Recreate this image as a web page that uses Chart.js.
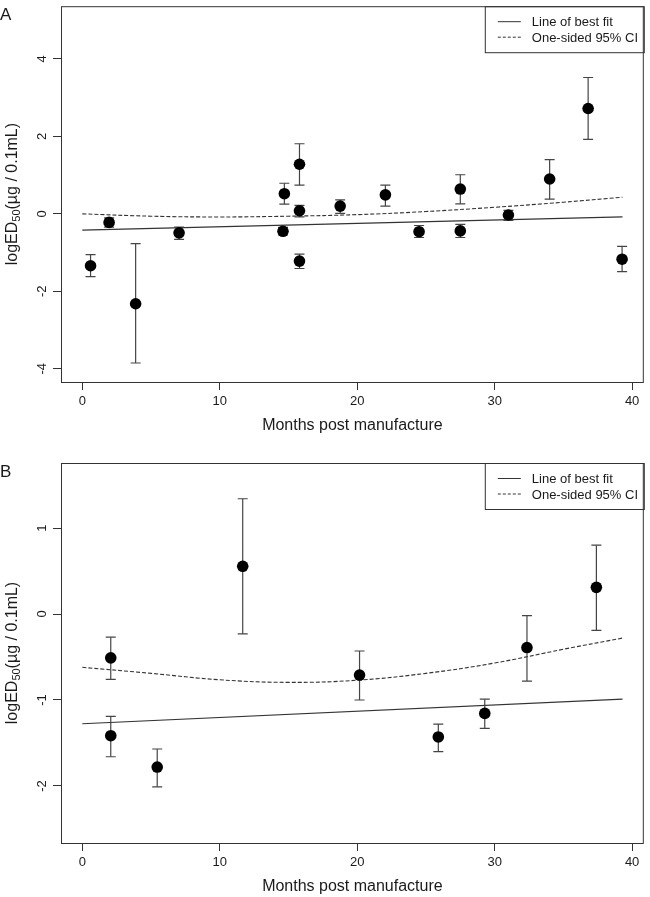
<!DOCTYPE html>
<html>
<head>
<meta charset="utf-8">
<script src="https://cdn.jsdelivr.net/npm/chart.js@4.4.1/dist/chart.umd.min.js"></script>
<style>
  body { margin: 0; background: #fff; }
  .panel { position: absolute; left: 0; width: 650px; }
</style>
</head>
<body>
<div class="panel" style="top:0"><canvas id="chartA" width="650" height="448"></canvas></div>
<div class="panel" style="top:448px"><canvas id="chartB" width="650" height="449"></canvas></div>
<script>
// panel A
const monthsA = [0.6, 1.95, 3.88, 7.04, 14.6, 14.7, 15.8, 15.8, 15.8, 18.76, 22.05, 24.5, 27.5, 27.5, 31.0, 34.0, 36.8, 39.27];
const logEDA  = [-1.34, -0.22, -2.32, -0.49, -0.45, 0.52, 1.28, 0.08, -1.22, 0.20, 0.49, -0.46, 0.64, -0.44, -0.03, 0.90, 2.72, -1.17];
const upperA  = [-1.05, -0.10, -0.77, -0.34, -0.35, 0.79, 1.81, 0.22, -1.04, 0.36, 0.74, -0.30, 1.01, -0.27, 0.09, 1.40, 3.52, -0.84];
const lowerA  = [-1.62, -0.34, -3.85, -0.66, -0.54, 0.25, 0.74, -0.08, -1.41, 0.01, 0.20, -0.61, 0.26, -0.61, -0.17, 0.38, 1.92, -1.49];
const fitA    = [-0.42, -0.08];
const ciA     = [0.0, -0.06, -0.08, -0.06, -0.02, 0.06, 0.17, 0.30, 0.43];
const yTicksA = [-4, -2, 0, 2, 4];

// panel B
const monthsB = [2.07, 2.07, 5.45, 11.67, 20.17, 25.9, 29.28, 32.35, 37.4];
const logEDB  = [-0.51, -1.415, -1.78, 0.555, -0.71, -1.43, -1.156, -0.39, 0.31];
const upperB  = [-0.27, -1.19, -1.57, 1.34, -0.43, -1.28, -0.99, -0.02, 0.80];
const lowerB  = [-0.76, -1.66, -2.01, -0.23, -1.00, -1.60, -1.33, -0.78, -0.19];
const fitB    = [-1.276, -0.99];
const ciB     = [-0.62, -0.69, -0.765, -0.795, -0.77, -0.69, -0.57, -0.41, -0.28];
const yTicksB = [-2, -1, 0, 1];

// shared
const fitMonths = [0, 39.3];
const ciMonths  = [0, 5, 10, 15, 20, 25, 30, 35, 39.3];
const xTicks    = [0, 10, 20, 30, 40];
const legendLabels = ['Line of best fit', 'One-sided 95% CI'];

const FONT = "'Liberation Sans', Arial, sans-serif";
const INK = '#1a1a1a';
Chart.defaults.font.family = FONT;

function xy(xs, ys) { return xs.map((x, i) => ({ x, y: ys[i] })); }

function errorBarPoints(xs, lo, hi) {
    const pts = [];
    xs.forEach((x, i) => { pts.push({ x, y: lo[i] }, { x, y: hi[i] }, { x, y: null }); });
    return pts;
}

// R-style box, legend, rotated y labels and titles
const decor = {
    id: 'decor',
    afterDraw(chart, args, opts) {
        const { ctx, chartArea: a, scales } = chart;
        ctx.save();
        ctx.strokeStyle = '#333';
        ctx.lineWidth = 1;
        ctx.strokeRect(a.left + 0.5, a.top + 0.5, a.right - a.left - 1, a.bottom - a.top);

        // panel letter
        ctx.fillStyle = INK;
        ctx.font = `17px ${FONT}`;
        ctx.textAlign = 'left';
        ctx.textBaseline = 'alphabetic';
        ctx.fillText(opts.letter, 0, a.top + 14);

        // y tick labels, rotated like R's las=0
        ctx.font = `13px ${FONT}`;
        ctx.textAlign = 'center';
        ctx.textBaseline = 'middle';
        opts.yTicks.forEach(v => {
            const py = scales.y.getPixelForValue(v);
            ctx.save();
            ctx.translate(42.5, py);
            ctx.rotate(-Math.PI / 2);
            ctx.fillText(String(v), 0, 0);
            ctx.restore();
        });

        // y title with subscript
        ctx.save();
        ctx.translate(13, (a.top + a.bottom) / 2);
        ctx.rotate(-Math.PI / 2);
        const parts = [['logED', 16, 0], ['50', 11, 4], ['(µg / 0.1mL)', 16, 0]];
        let total = 0;
        parts.forEach(p => { ctx.font = `${p[1]}px ${FONT}`; total += ctx.measureText(p[0]).width; });
        let tx = -total / 2;
        ctx.textAlign = 'left';
        parts.forEach(p => {
            ctx.font = `${p[1]}px ${FONT}`;
            ctx.fillText(p[0], tx, p[2]);
            tx += ctx.measureText(p[0]).width;
        });
        ctx.restore();

        // x title
        ctx.font = `16px ${FONT}`;
        ctx.textAlign = 'center';
        ctx.fillText('Months post manufacture', (a.left + a.right) / 2, a.bottom + 44);

        // legend box
        const lw = 159, lh = 46;
        const lx = a.right - lw;
        ctx.strokeRect(lx + 0.5, a.top + 0.5, lw, lh);
        ctx.font = `13px ${FONT}`;
        ctx.textAlign = 'left';
        legendLabels.forEach((label, i) => {
            const ry = a.top + 15.5 + i * 15.5;
            ctx.beginPath();
            ctx.strokeStyle = '#333';
            ctx.setLineDash(i === 0 ? [] : [3, 2]);
            ctx.moveTo(lx + 13, ry);
            ctx.lineTo(lx + 36, ry);
            ctx.stroke();
            ctx.setLineDash([]);
            ctx.fillText(label, lx + 47, ry + 1);
        });
        ctx.restore();
    }
};

function makeChart(id, cfg) {
    const ctx = document.getElementById(id).getContext('2d');
    return new Chart(ctx, {
        type: 'scatter',
        data: {
            datasets: [
                {
                    data: xy(cfg.months, cfg.values),
                    backgroundColor: '#000',
                    borderWidth: 0,
                    pointRadius: 5.8
                },
                {
                    data: errorBarPoints(cfg.months, cfg.lower, cfg.upper),
                    showLine: true,
                    spanGaps: false,
                    borderColor: '#444',
                    borderWidth: 1.2,
                    pointStyle: 'line',
                    pointRadius: 5,
                    pointBorderColor: '#444',
                    pointBorderWidth: 1.2
                },
                {
                    data: xy(fitMonths, cfg.fit),
                    showLine: true,
                    borderColor: '#333',
                    borderWidth: 1.2,
                    pointRadius: 0
                },
                {
                    data: xy(ciMonths, cfg.ci),
                    showLine: true,
                    borderColor: '#333',
                    borderWidth: 1.1,
                    borderDash: [4, 2],
                    tension: 0.4,
                    pointRadius: 0
                }
            ]
        },
        options: {
            responsive: false,
            animation: false,
            layout: { padding: { left: 0, top: cfg.padTop, right: 3, bottom: 0 } },
            scales: {
                x: {
                    type: 'linear',
                    min: -1.55,
                    max: 40.85,
                    afterBuildTicks: s => { s.ticks = xTicks.map(v => ({ value: v })); },
                    afterFit: s => { s.height = cfg.xAxisHeight; },
                    grid: { drawOnChartArea: false, tickLength: 8, color: '#333' },
                    border: { display: false },
                    ticks: { color: INK, font: { size: 13 }, padding: 4, maxRotation: 0 }
                },
                y: {
                    type: 'linear',
                    min: cfg.yMin,
                    max: cfg.yMax,
                    afterBuildTicks: s => { s.ticks = cfg.yTicks.map(v => ({ value: v })); },
                    afterFit: s => { s.width = 61; },
                    grid: { drawOnChartArea: false, tickLength: 8, color: '#333' },
                    border: { display: false },
                    ticks: { display: false }
                }
            },
            plugins: {
                legend: { display: false },
                tooltip: { enabled: false },
                decor: { letter: cfg.letter, yTicks: cfg.yTicks }
            }
        },
        plugins: [decor]
    });
}

makeChart('chartA', {
    letter: 'A', months: monthsA, values: logEDA, upper: upperA, lower: lowerA,
    fit: fitA, ci: ciA, yTicks: yTicksA, yMin: -4.34, yMax: 5.36, padTop: 2, xAxisHeight: 66
});
makeChart('chartB', {
    letter: 'B', months: monthsB, values: logEDB, upper: upperB, lower: lowerB,
    fit: fitB, ci: ciB, yTicks: yTicksB, yMin: -2.663, yMax: 1.756, padTop: 15, xAxisHeight: 54
});
</script>
</body>
</html>
